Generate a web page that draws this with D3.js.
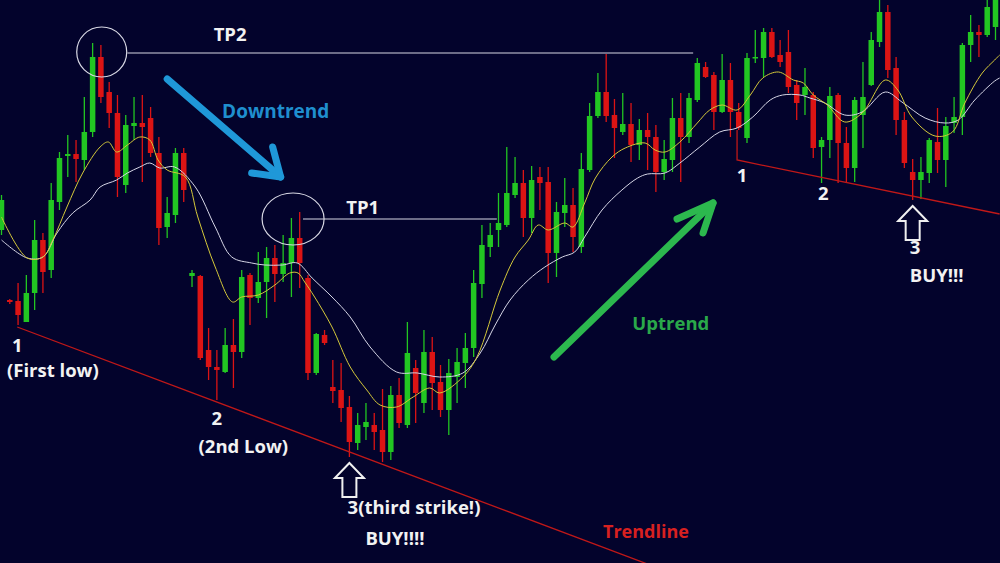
<!DOCTYPE html>
<html><head><meta charset="utf-8">
<script src="https://cdn.jsdelivr.net/npm/d3@7"></script>
<style>html,body{margin:0;padding:0;background:#03032c;overflow:hidden}</style>
</head><body><svg id="c" width="1000" height="563"></svg>
<script>
// ---- data (price in points) ----
const opens  = [370,300,299,278,307,360,330,398,444,446,440,468,543,508,487,415,474,477,482,447,373,385,447,324,324,250,233,228,255,248,325,302,318,342,326,337,362,322,227,265,213,210,193,157,173,175,170,148,205,175,232,197,248,218,190,223,237,252,316,353,370,375,405,417,382,423,418,347,387,395,353,430,484,508,485,468,476,455,470,463,428,440,482,463,500,533,525,488,520,488,462,542,542,568,545,548,515,505,505,453,460,505,457,432,485,515,558,588,532,480,428,420,427,458,440,477,483,555,568,565,573];
const highs  = [405,301,317,325,380,367,417,448,465,460,503,557,555,518,505,485,503,505,493,463,403,452,452,330,325,272,250,272,281,330,327,348,353,355,365,382,388,325,267,270,240,237,204,187,197,187,211,214,222,278,240,270,263,235,241,252,267,330,375,377,407,453,443,430,434,433,433,398,422,412,447,497,527,546,501,507,497,481,487,475,460,502,507,507,542,538,528,546,537,497,547,570,572,572,560,570,520,532,508,463,513,507,473,503,538,568,600,595,543,488,441,443,462,492,483,503,557,585,575,600,605];
const lows   = [365,296,275,278,290,307,322,390,423,418,430,463,497,472,403,407,460,418,443,355,362,377,398,313,240,220,200,227,212,242,275,297,282,298,318,303,312,220,225,255,197,178,143,150,160,150,138,140,172,172,177,187,190,183,165,197,212,243,302,343,353,373,402,363,367,390,317,323,373,348,347,428,482,478,442,465,438,440,430,408,420,428,418,457,498,522,470,487,463,470,457,537,523,542,533,507,480,485,442,417,442,417,417,418,452,514,553,522,465,432,400,401,417,427,413,467,465,538,543,563,560];
const closes = [400,298,285,307,360,328,400,442,446,441,468,543,503,487,423,475,477,473,447,372,387,447,410,327,242,233,230,255,248,323,302,318,342,326,337,362,337,227,266,257,209,192,158,175,178,168,148,205,177,247,207,248,217,190,227,238,252,317,355,365,377,407,417,382,420,417,347,388,395,363,431,484,508,484,472,476,455,470,463,428,441,482,463,502,537,523,488,520,488,472,542,543,568,543,538,513,497,513,452,460,504,457,432,500,503,560,588,530,480,437,420,428,460,440,474,483,555,568,565,593,605];

// moving averages: [candle index, price]
const maFast = [[0,383],[3.1,342],[5,343],[6.2,360],[7.9,393],[9.8,427],[11.9,453],[12.9,458],[13.9,448],[15.2,455],[16.7,463],[17.9,460],[18.9,440],[20,430],[22.2,423],[23.7,383],[25.8,333],[27.9,298],[29,303],[31,305],[33,315],[34.8,327],[35.8,327],[36.6,318],[37.8,303],[39.9,273],[42.1,233],[44.1,210],[45.7,195],[47.7,193],[49.7,203],[51.7,212],[52.9,207],[55.7,223],[57.4,243],[60.2,310],[62,343],[63.6,360],[64.8,375],[66,370],[68,377],[69,373],[70.4,397],[71.7,422],[73.7,443],[75.3,452],[77.7,457],[78.9,450],[80.1,448],[81.9,458],[84,477],[85.5,490],[87,495],[88.8,490],[90.4,505],[91.9,522],[93.8,528],[95.6,520],[96.8,517],[98,505],[99.7,495],[101.8,478],[103.9,487],[106.7,520],[108.2,510],[109.9,483],[112.7,464],[114.8,468],[116.3,497],[118.4,527],[119.9,540],[120.5,545]];
const maSlow = [[0,360],[3.1,342],[5,343],[6.7,367],[8.6,387],[10.7,400],[11.9,413],[13.9,420],[15.2,427],[16.7,433],[17.9,437],[19.1,432],[20.9,433],[23.4,413],[25.8,373],[27.8,343],[30.2,337],[31.8,335],[33.9,335],[35.7,337],[37.5,322],[39.9,303],[42.1,283],[44.5,253],[47.7,228],[50.2,227],[52.9,223],[55.7,227],[57.8,247],[59.6,275],[61.4,300],[63.6,320],[65.6,333],[67.7,343],[69.2,348],[70.4,363],[72.5,390],[74.9,410],[76.8,422],[78,426],[80.1,427],[81.9,437],[84.3,453],[86.7,468],[88.8,472],[90.7,483],[92.8,500],[94.3,505],[96.4,505],[97.6,502],[99.4,497],[101.8,485],[103.9,488],[106.7,508],[108.7,498],[111.5,482],[113.9,477],[115.5,480],[117.5,500],[119.9,519],[120.5,522]];

const tpLabels = ["TP2","TP1"];
const tpLevels = [547, 381];
const tpFrom = [15.2, 36.4];
const tpTo = [83.5, 59.8];
const circleIdx = [12.1, 35.2];
const circlePrice = [548, 381];

const trend1 = [[1.9,273],[78.3,35]];
const trend2 = [[88.8,470],[88.8,440],[120.5,386]];

const labelTexts = ["1","(First low)","2","(2nd Low)","3(third strike!)","BUY!!!!","1","2","3","BUY!!!","TP2","TP1"];
const labelIdx   = [1.9, 6.2, 26, 29.2, 49.8, 47.5, 89.4, 99.2, 110.3, 112.9, 27.6, 43.6];
const labelPrice = [248, 223, 175, 147, 86, 55, 418, 400, 346, 318, 559, 386];

const buyCandles = [42, 110];

// ---- drawing ----
const W = 1000, H = 563;
const svg = d3.select("#c");
svg.append("rect").attr("width",W).attr("height",H).attr("fill","#03032c");
const x = d3.scaleLinear().domain([0,120]).range([1.5,995.5]);
const y = d3.scaleLinear().domain([37,600]).range([563,0]);

const candles = d3.range(opens.length).map(i=>({i,o:opens[i],h:highs[i],l:lows[i],c:closes[i]}));
const GREEN="#22c622", RED="#dc1414";
const g = svg.append("g");
g.selectAll("line.w").data(candles).join("line")
  .attr("x1",d=>x(d.i)).attr("x2",d=>x(d.i))
  .attr("y1",d=>y(d.h)).attr("y2",d=>y(d.l))
  .attr("stroke",d=>d.c>=d.o?GREEN:RED).attr("stroke-width",1.3);
g.selectAll("rect.b").data(candles).join("rect")
  .attr("x",d=>x(d.i)-2.75).attr("width",5.5)
  .attr("y",d=>y(Math.max(d.o,d.c)))
  .attr("height",d=>Math.max(1.5, Math.abs(y(d.o)-y(d.c))))
  .attr("fill",d=>d.c>=d.o?GREEN:RED);

const line = d3.line().x(d=>x(d[0])).y(d=>y(d[1])).curve(d3.curveCatmullRom);
svg.append("path").attr("d",line(maSlow)).attr("fill","none").attr("stroke","#d6d6e6").attr("stroke-width",1);
svg.append("path").attr("d",line(maFast)).attr("fill","none").attr("stroke","#d4c83a").attr("stroke-width",1);

// TP lines & circles
tpLabels.forEach((t,k)=>{
  svg.append("line").attr("x1",x(tpFrom[k])).attr("x2",x(tpTo[k]))
    .attr("y1",y(tpLevels[k])).attr("y2",y(tpLevels[k]))
    .attr("stroke","#d8d8e4").attr("stroke-width",1.2);
});
svg.append("ellipse").attr("cx",x(circleIdx[0])).attr("cy",y(circlePrice[0])).attr("rx",25).attr("ry",25)
  .attr("fill","none").attr("stroke","#d8d8e4").attr("stroke-width",1.2);
svg.append("ellipse").attr("cx",x(circleIdx[1])).attr("cy",y(circlePrice[1])).attr("rx",31).attr("ry",26)
  .attr("fill","none").attr("stroke","#d8d8e4").attr("stroke-width",1.2);

// trendlines
const tl = d3.line().x(d=>x(d[0])).y(d=>y(d[1]));
svg.append("path").attr("d",tl(trend1)).attr("fill","none").attr("stroke","#c01818").attr("stroke-width",1.3);
svg.append("path").attr("d",tl(trend2)).attr("fill","none").attr("stroke","#c01818").attr("stroke-width",1.3);

// trend arrows
function arrow(x1,y1,x2,y2,a1,a2,color){
  svg.append("line").attr("x1",x1).attr("y1",y1).attr("x2",x2).attr("y2",y2)
    .attr("stroke",color).attr("stroke-width",7).attr("stroke-linecap","round");
  svg.append("path").attr("d",`M${x2+a1[0]},${y2+a1[1]}L${x2},${y2}L${x2+a2[0]},${y2+a2[1]}`)
    .attr("fill","none").attr("stroke",color).attr("stroke-width",7)
    .attr("stroke-linecap","round").attr("stroke-linejoin","round");
}
arrow(x(20), y(521), x(33.7), y(423), [-29,-4], [-8,-30], "#1f98d8");
arrow(x(66.7), y(243), x(85.9), y(397), [-36,16], [-10,30], "#2cb84e");

// BUY arrows (outline)
buyCandles.forEach(i=>{
  const tx = x(i), ty = y(lows[i]) + 6;
  svg.append("path")
    .attr("d",`M${tx},${ty}l14.5,15h-7.5v19h-14v-19h-7.5z`)
    .attr("fill","none").attr("stroke","#f0f0f0").attr("stroke-width",2).attr("stroke-linejoin","miter");
});

const font = "'Open Sans', 'DejaVu Sans', sans-serif";
svg.selectAll("text.l").data(labelTexts).join("text")
  .attr("x",(d,k)=>x(labelIdx[k])).attr("y",(d,k)=>y(labelPrice[k]))
  .attr("text-anchor","middle").attr("fill","#f2f2f2")
  .attr("font-family",font).attr("font-weight","bold").attr("font-size",18.5)
  .text(d=>d);

svg.append("text").attr("x",x(33.1)).attr("y",y(482)).attr("text-anchor","middle")
  .attr("fill","#1f8fcf").attr("font-family",font).attr("font-weight","bold").attr("font-size",19).text("Downtrend");
svg.append("text").attr("x",x(80.8)).attr("y",y(270)).attr("text-anchor","middle")
  .attr("fill","#2aa84a").attr("font-family",font).attr("font-weight","bold").attr("font-size",18.5).text("Uptrend");
svg.append("text").attr("x",x(77.8)).attr("y",y(62)).attr("text-anchor","middle")
  .attr("fill","#d82020").attr("font-family",font).attr("font-weight","bold").attr("font-size",18).text("Trendline");
</script></body></html>
